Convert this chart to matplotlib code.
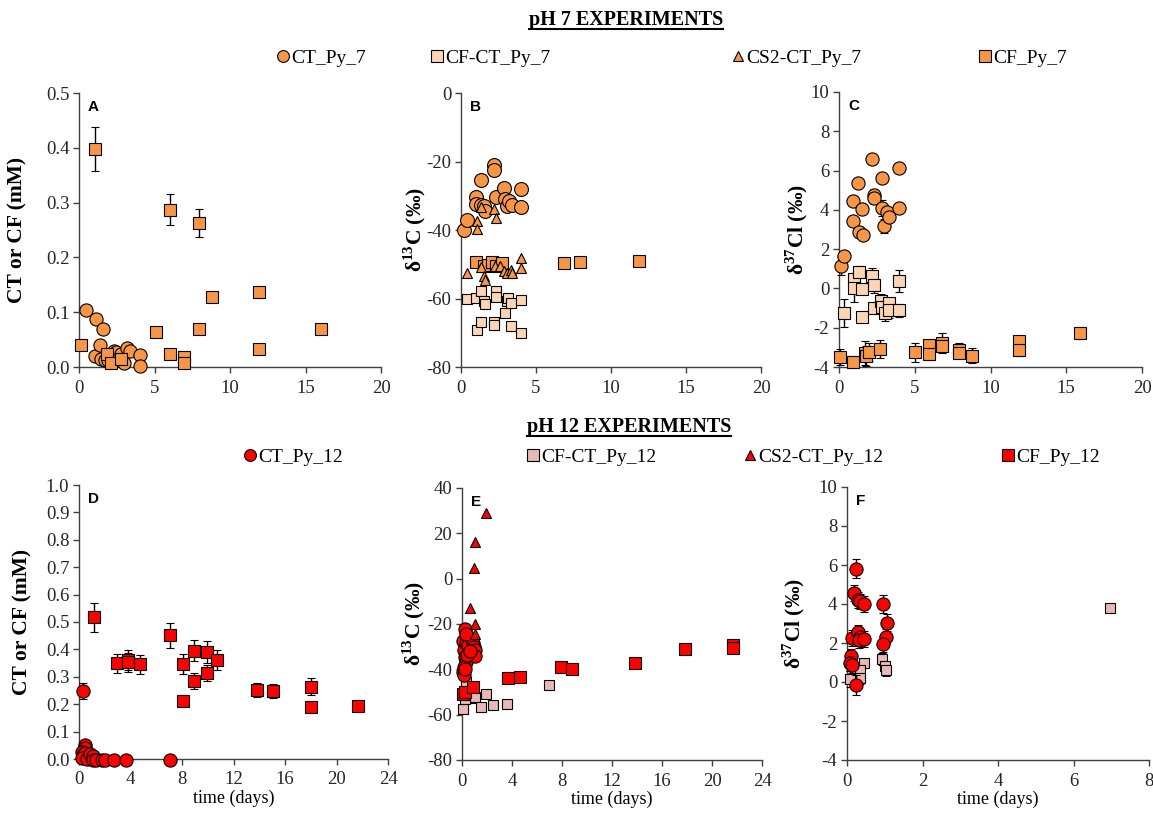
import matplotlib
matplotlib.use("Agg")
import matplotlib.pyplot as plt
from matplotlib.lines import Line2D

plt.rcParams["font.family"] = "Liberation Serif"
plt.rcParams["axes.unicode_minus"] = False
plt.rcParams["mathtext.fontset"] = "custom"
plt.rcParams["mathtext.rm"] = "Liberation Serif"
plt.rcParams["mathtext.bf"] = "Liberation Serif:bold"

ORANGE = "#f79646"
PEACH = "#fcd5b4"
RED = "#ff0000"
PINK = "#e6b9b8"

# ---- pH 7 : A (concentration) ----
a_ct_x = [0.45, 1.05, 1.15, 1.4, 1.45, 1.6, 1.7, 1.9, 2.3, 2.45, 2.8, 2.95, 3.15, 3.4, 4.05, 4.05]
a_ct_y = [0.104, 0.020, 0.087, 0.041, 0.015, 0.070, 0.012, 0.012, 0.030, 0.028, 0.024, 0.008, 0.034, 0.029, 0.022, 0.002]
a_cf_x = [0.1, 1.05, 1.85, 2.15, 2.8, 5.1, 6.05, 6.05, 6.95, 6.95, 7.95, 7.95, 8.8, 11.9, 11.9, 16.05]
a_cf_y = [0.041, 0.398, 0.023, 0.007, 0.015, 0.064, 0.287, 0.023, 0.018, 0.007, 0.263, 0.070, 0.128, 0.137, 0.033, 0.069]
a_cf_err = [0, 0.04, 0, 0, 0, 0, 0.028, 0, 0, 0, 0.026, 0, 0.008, 0.008, 0, 0]

# ---- pH 7 : B (d13C) ----
b_ct_x = [0.2, 0.4, 1.0, 1.0, 1.3, 1.3, 1.55, 1.6, 2.2, 2.2, 2.35, 2.85, 2.95, 3.05, 3.2, 3.4, 4.0, 4.0]
b_ct_y = [-40.1, -37.2, -30.4, -32.3, -25.3, -32.6, -32.9, -34.5, -20.9, -22.6, -30.4, -27.7, -30.9, -32.9, -31.6, -32.6, -28.0, -33.3]
b_cfct_x = [0.4, 1.0, 1.05, 1.35, 1.35, 1.55, 1.6, 2.2, 2.2, 2.35, 2.35, 2.9, 3.05, 3.1, 3.35, 3.35, 4.0, 4.0]
b_cfct_y = [-60.0, -59.9, -69.1, -57.9, -67.0, -60.8, -61.5, -67.0, -67.6, -57.9, -59.6, -64.2, -60.8, -59.9, -61.3, -68.1, -60.5, -70.1]
b_cs2_x = [0.4, 1.05, 1.05, 1.35, 1.35, 1.55, 1.6, 2.2, 2.25, 2.35, 2.6, 2.85, 3.05, 3.3, 3.4, 4.0, 4.0]
b_cs2_y = [-52.6, -37.3, -39.6, -33.3, -50.8, -53.5, -54.5, -33.9, -50.5, -36.5, -50.6, -52.1, -52.6, -51.6, -52.7, -48.2, -51.1]
b_cf_x = [1.0, 1.55, 1.8, 2.05, 2.35, 2.75, 6.85, 7.95, 11.85]
b_cf_y = [-49.4, -50.4, -50.2, -49.4, -50.4, -49.6, -49.6, -49.4, -49.1]

# ---- pH 7 : C (d37Cl) ----
c_ct_x = [0.1, 0.35, 0.95, 0.95, 1.25, 1.35, 1.5, 1.6, 2.2, 2.3, 2.3, 2.85, 2.85, 3.0, 3.2, 3.3, 3.95, 3.95]
c_ct_y = [1.15, 1.65, 4.46, 3.45, 5.38, 2.89, 4.02, 2.72, 6.6, 4.75, 4.6, 5.63, 4.11, 3.18, 3.9, 3.65, 6.14, 4.07]
c_ct_err = [0.45, 0.15, 0.15, 0.15, 0.2, 0.15, 0.15, 0.15, 0.25, 0.3, 0.3, 0.15, 0.4, 0.35, 0.15, 0.2, 0.15, 0.15]
c_cfct_x = [0.3, 1.0, 1.0, 1.3, 1.5, 1.5, 2.2, 2.3, 2.3, 2.75, 2.85, 3.05, 3.3, 3.3, 3.95, 3.95]
c_cfct_y = [-1.26, 0.47, 0.01, 0.86, -0.04, -1.46, 0.64, 0.18, -1.0, -0.66, -0.92, -1.26, -0.75, -1.09, 0.38, -1.12]
c_cfct_err = [0.7, 0.3, 0.7, 0.3, 0.1, 0.1, 0.4, 0.4, 0.2, 0.4, 0.2, 0.4, 0.2, 0.4, 0.55, 0.35]
c_cf_x = [0.05, 0.95, 1.7, 1.75, 2.0, 2.7, 5.0, 5.95, 5.95, 6.8, 6.8, 7.9, 7.9, 8.75, 11.85, 11.85, 15.9]
c_cf_y = [-3.49, -3.76, -3.29, -3.45, -3.25, -3.09, -3.26, -2.9, -3.32, -2.78, -2.95, -3.12, -3.29, -3.42, -2.7, -3.12, -2.27]
c_cf_err = [0.4, 0.3, 0.6, 0.5, 0.45, 0.45, 0.5, 0.3, 0.3, 0.5, 0.3, 0.35, 0.2, 0.4, 0.3, 0.3, 0.3]

# ---- pH 12 : D (concentration) ----
d_ct_x = [0.3, 0.45, 0.45, 0.2, 0.3, 0.5, 0.2, 0.6, 0.85, 1.1, 1.1, 1.3, 1.75, 2.0, 2.7, 3.65, 7.05]
d_ct_y = [0.249, 0.051, 0.039, 0.027, 0.015, 0.023, 0.002, 0.0, 0.018, 0.011, -0.002, -0.004, -0.004, -0.004, -0.004, -0.004, -0.004]
d_ct_err = [0.03, 0, 0, 0, 0, 0, 0, 0, 0, 0, 0, 0, 0, 0, 0, 0, 0]
d_cf_x = [1.15, 2.95, 3.8, 3.8, 4.7, 7.05, 8.05, 8.05, 8.9, 8.9, 9.95, 9.95, 10.75, 13.85, 15.05, 18.0, 18.0, 21.7]
d_cf_y = [0.517, 0.349, 0.361, 0.353, 0.345, 0.451, 0.347, 0.213, 0.395, 0.285, 0.391, 0.313, 0.361, 0.252, 0.248, 0.264, 0.189, 0.193]
d_cf_err = [0.052, 0.035, 0.036, 0.035, 0.035, 0.045, 0.035, 0.02, 0.038, 0.028, 0.04, 0.03, 0.036, 0.025, 0.025, 0.03, 0.015, 0.015]

# ---- pH 12 : E (d13C) ----
e_ct_x = [0.25, 0.1, 0.15, 0.35, 0.5, 0.2, 0.3, 0.15, 0.1, 0.15, 0.9, 0.95, 1.0, 1.05, 0.4, 0.6, 0.25, 0.3]
e_ct_y = [-22.3, -27.7, -31.4, -28.5, -29.2, -34.4, -36.6, -38.8, -41.0, -42.3, -28.5, -30.0, -31.4, -33.9, -33.6, -32.0, -40.0, -24.5]
e_cfct_x = [0.1, 0.3, 0.45, 0.65, 1.0, 1.9, 1.5, 2.5, 3.6, 6.95, 0.25]
e_cfct_y = [-57.6, -45.4, -50.6, -52.8, -52.0, -51.0, -56.8, -55.9, -55.4, -46.9, -53.2]
e_cs2_x = [1.9, 1.0, 0.95, 0.65, 1.0, 1.0]
e_cs2_y = [28.8, 16.0, 4.8, -13.0, -20.0, -24.6]
e_cf_x = [0.1, 0.2, 0.9, 3.65, 4.6, 7.9, 8.8, 13.85, 17.85, 21.65, 21.65]
e_cf_y = [-51.0, -50.0, -47.9, -43.9, -43.2, -39.1, -40.0, -37.0, -31.1, -29.2, -30.4]

# ---- pH 12 : F (d37Cl) ----
f_ct_x = [0.23, 0.18, 0.29, 0.35, 0.44, 0.95, 1.06, 1.04, 0.95, 0.14, 0.29, 0.35, 0.32, 0.44, 0.11, 0.09, 0.14, 0.23]
f_ct_y = [5.81, 4.56, 4.22, 4.13, 4.01, 4.01, 3.05, 2.33, 1.96, 2.25, 2.54, 2.33, 2.13, 2.20, 1.31, 0.96, 0.88, -0.15]
f_ct_err = [0.5, 0.4, 0.4, 0.4, 0.4, 0.45, 0.45, 0.4, 0.4, 0.4, 0.4, 0.4, 0.4, 0.4, 0.4, 0.4, 0.4, 0.5]
f_cfct_x = [0.44, 0.34, 0.34, 0.07, 0.94, 1.0, 1.04, 6.97]
f_cfct_y = [0.96, 0.62, 0.19, 0.14, 1.17, 0.83, 0.59, 3.79]
f_cfct_err = [0.1, 0.2, 0.3, 0.4, 0.3, 0.1, 0.3, 0.1]

W, H = 1153, 814
fig = plt.figure(figsize=(W / 100, H / 100), dpi=100)


def px_axes(left, top, right, bottom):
    return fig.add_axes([left / W, 1 - bottom / H, (right - left) / W, (bottom - top) / H])


def series(ax, x, y, marker, color, ms, err=None, z=3):
    if err is None:
        ax.plot(x, y, ls="none", marker=marker, mfc=color, mec="black", mew=0.8,
                ms=ms, clip_on=False, zorder=z)
    else:
        cont = ax.errorbar(x, y, yerr=err, fmt=marker, mfc=color, mec="black", mew=0.8,
                           ms=ms, ecolor="black", elinewidth=1, capsize=3, capthick=1, zorder=z)
        for art in cont.get_children():
            art.set_clip_on(False)


def style(ax, xlim, xticks, ylim, yticks, yfmt, letter, ylabel, ylab_x, xlabel=False):
    ax.set_xlim(xlim)
    ax.set_ylim(ylim)
    ax.set_xticks(xticks)
    ax.set_yticks(yticks)
    ax.set_yticklabels([yfmt.format(v) for v in yticks])
    for s in ["top", "right"]:
        ax.spines[s].set_visible(False)
    for s in ["left", "bottom"]:
        ax.spines[s].set_color("#404040")
        ax.spines[s].set_linewidth(1)
    ax.tick_params(direction="out", length=4, width=1, color="#404040", labelsize=13.5,
                   labelcolor="#262626", pad=3)
    ax.tick_params(axis="x", pad=5)
    ax.text(0.03, 0.95, letter, transform=ax.transAxes, ha="left", va="center",
            fontsize=11, fontweight="bold", family="Liberation Sans")
    ax.set_ylabel(ylabel, fontsize=15.5, fontweight="bold")
    ax.yaxis.set_label_coords(ylab_x, 0.5)
    if xlabel:
        ax.set_xlabel("time (days)", fontsize=13)
        ax.xaxis.set_label_coords(0.5, -0.113)


d13 = "δ$^{\\mathbf{13}}$C (‰)"
d37 = "δ$^{\\mathbf{37}}$Cl (‰)"

# A
ax = px_axes(79, 93, 381, 367)
series(ax, a_ct_x, a_ct_y, "o", ORANGE, 9.5)
series(ax, a_cf_x, a_cf_y, "s", ORANGE, 8.5, err=a_cf_err, z=4)
style(ax, (0, 20), [0, 5, 10, 15, 20], (0, 0.5), [0, 0.1, 0.2, 0.3, 0.4, 0.5], "{:.1f}", "A",
      "CT or CF (mM)", -0.17)

# B
ax = px_axes(461, 93, 761, 367)
series(ax, b_ct_x, b_ct_y, "o", ORANGE, 10)
series(ax, b_cfct_x, b_cfct_y, "s", PEACH, 7)
series(ax, b_cf_x, b_cf_y, "s", ORANGE, 9, z=4)
series(ax, b_cs2_x, b_cs2_y, "^", ORANGE, 6.5, z=5)
style(ax, (0, 20), [0, 5, 10, 15, 20], (-80, 0), [-80, -60, -40, -20, 0], "{:d}", "B", d13, -0.11)

# C
ax = px_axes(839, 92, 1142, 367)
series(ax, c_ct_x, c_ct_y, "o", ORANGE, 9.5, err=c_ct_err)
series(ax, c_cfct_x, c_cfct_y, "s", PEACH, 8, err=c_cfct_err)
series(ax, c_cf_x, c_cf_y, "s", ORANGE, 8.5, err=c_cf_err, z=4)
style(ax, (0, 20), [0, 5, 10, 15, 20], (-4, 10), list(range(-4, 11, 2)), "{:d}", "C", d37, -0.096)

# D
ax = px_axes(79, 485, 388, 759)
series(ax, d_cf_x, d_cf_y, "s", RED, 8.5, err=d_cf_err)
series(ax, d_ct_x, d_ct_y, "o", RED, 9.5, err=d_ct_err, z=4)
style(ax, (0, 24), list(range(0, 25, 4)), (0, 1.0), [i / 10 for i in range(11)], "{:.1f}", "D",
      "CT or CF (mM)", -0.15, xlabel=True)

# E
ax = px_axes(462, 488, 762, 760)
series(ax, e_cfct_x, e_cfct_y, "s", PINK, 7)
series(ax, e_cf_x, e_cf_y, "s", RED, 8.5, z=4)
series(ax, e_ct_x, e_ct_y, "o", RED, 9.5, z=5)
series(ax, e_cs2_x, e_cs2_y, "^", RED, 7, z=6)
style(ax, (0, 24), list(range(0, 25, 4)), (-80, 40), list(range(-80, 41, 20)), "{:d}", "E", d13,
      -0.117, xlabel=True)

# F
ax = px_axes(847, 487, 1149, 760)
series(ax, f_cfct_x, f_cfct_y, "s", PINK, 7, err=f_cfct_err)
series(ax, f_ct_x, f_ct_y, "o", RED, 9.5, err=f_ct_err, z=4)
style(ax, (0, 8), [0, 2, 4, 6, 8], (-4, 10), list(range(-4, 11, 2)), "{:d}", "F", d37, -0.132,
      xlabel=True)


# titles with underline
renderer = fig.canvas.get_renderer()
for txt, cx, cy in [("pH 7 EXPERIMENTS", 626, 20), ("pH 12 EXPERIMENTS", 629, 427)]:
    t = fig.text(cx / W, 1 - cy / H, txt, ha="center", va="center", fontsize=14.5, fontweight="bold")
    bb = t.get_window_extent(renderer=renderer).transformed(fig.transFigure.inverted())
    uy = bb.y0 + 1.0 / H
    fig.add_artist(Line2D([bb.x0, bb.x1], [uy, uy], transform=fig.transFigure, color="black", lw=1.5))

# legends
leg_rows = [
    (58, [(283, "o", ORANGE, "CT_Py_7"), (437, "s", PEACH, "CF-CT_Py_7"),
          (738, "^", ORANGE, "CS2-CT_Py_7"), (985, "s", ORANGE, "CF_Py_7")]),
    (457, [(250, "o", RED, "CT_Py_12"), (533, "s", PINK, "CF-CT_Py_12"),
           (750, "^", RED, "CS2-CT_Py_12"), (1008, "s", RED, "CF_Py_12")]),
]
for ly, entries in leg_rows:
    for mx, mk, col, lab in entries:
        h = Line2D([], [], ls="none", marker=mk, mfc=col, mec="black", mew=0.8,
                   ms=8.5 if mk != "^" else 7)
        fig.legend(handles=[h], labels=[lab], loc="center left",
                   bbox_to_anchor=((mx - 6) / W, 1 - ly / H), frameon=False, fontsize=14,
                   handlelength=0.6, handletextpad=0.15, borderpad=0, borderaxespad=0)

fig.savefig("out.png", dpi=100)
